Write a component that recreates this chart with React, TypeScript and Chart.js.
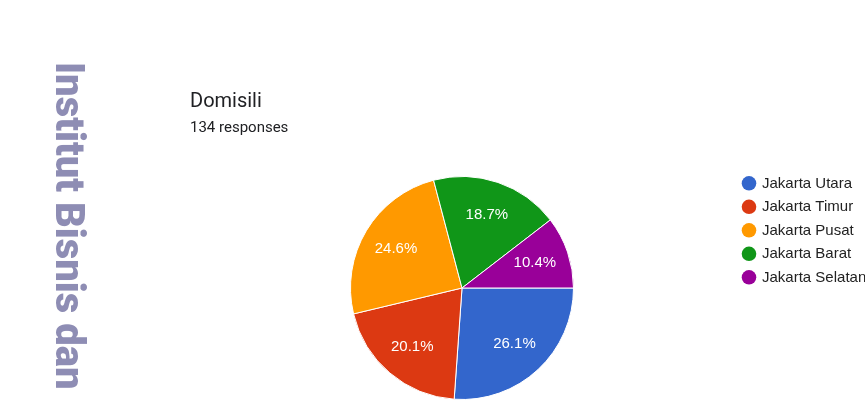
import React, { useEffect, useRef } from "react";
import { Chart, registerables } from "chart.js";

Chart.register(...registerables);

const categories = ["Jakarta Utara", "Jakarta Timur", "Jakarta Pusat", "Jakarta Barat", "Jakarta Selatan"];
const responses = [35, 27, 33, 25, 14];
const sliceColors = ["#3366CC", "#DC3912", "#FF9900", "#109618", "#990099"];
const titleText = "Domisili";
const subtitleText = "134 responses";
const sideText = "Institut Bisnis dan";

const labelPlugin = {
  id: "sliceLabels",
  afterDatasetsDraw(chart: any) {
    const ctx = chart.ctx;
    const meta = chart.getDatasetMeta(0);
    const data = chart.data.datasets[0].data as number[];
    const total = data.reduce((a, b) => a + b, 0);
    ctx.save();
    ctx.font = "15px 'Liberation Sans', Arial, sans-serif";
    ctx.fillStyle = "#ffffff";
    ctx.textAlign = "center";
    ctx.textBaseline = "middle";
    meta.data.forEach((arc: any, i: number) => {
      const p = arc.getProps(["x", "y", "startAngle", "endAngle", "outerRadius"], true);
      const mid = (p.startAngle + p.endAngle) / 2;
      const r = p.outerRadius * 0.69;
      const pct = ((data[i] / total) * 100).toFixed(1) + "%";
      ctx.fillText(pct, p.x + Math.cos(mid) * r, p.y + Math.sin(mid) * r);
    });
    ctx.restore();
  },
};

const legendPlugin = {
  id: "sideLegend",
  afterDraw(chart: any) {
    const ctx = chart.ctx;
    const labels = chart.data.labels as string[];
    const colors = chart.data.datasets[0].backgroundColor as string[];
    ctx.save();
    ctx.font = "15px 'Liberation Sans', Arial, sans-serif";
    ctx.textBaseline = "middle";
    ctx.textAlign = "left";
    labels.forEach((lab, i) => {
      const y = 183.3 + i * 23.5;
      ctx.beginPath();
      ctx.arc(749, y, 7.3, 0, Math.PI * 2);
      ctx.fillStyle = colors[i];
      ctx.fill();
      ctx.fillStyle = "#222222";
      ctx.fillText(lab, 762, y + 0.5);
    });
    ctx.restore();
  },
};

export default function App() {
  const canvasRef = useRef<HTMLCanvasElement | null>(null);

  useEffect(() => {
    if (!canvasRef.current) return;
    const chart = new Chart(canvasRef.current, {
      type: "pie",
      data: {
        labels: categories,
        datasets: [
          {
            data: responses,
            backgroundColor: sliceColors,
            borderColor: "#ffffff",
            borderWidth: 1,
          },
        ],
      },
      options: {
        responsive: false,
        animation: false,
        rotation: 90,
        layout: { padding: { left: 350, right: 291, top: 176, bottom: 1 } },
        plugins: {
          legend: { display: false },
          tooltip: { enabled: false },
          title: { display: false },
        },
      },
      plugins: [labelPlugin, legendPlugin],
    });
    return () => chart.destroy();
  }, []);

  return (
    <div style={{ position: "absolute", left: 0, top: 0, width: 865, height: 401, background: "#ffffff", overflow: "hidden" }}>
      <canvas ref={canvasRef} width={865} height={401} style={{ position: "absolute", left: 0, top: 0 }} />
      <div
        style={{
          position: "absolute",
          left: 190,
          top: 88,
          fontFamily: "Roboto, sans-serif",
          fontSize: 20,
          lineHeight: "24px",
          color: "#202124",
          whiteSpace: "nowrap",
        }}
      >
        {titleText}
      </div>
      <div
        style={{
          position: "absolute",
          left: 190,
          top: 118,
          fontFamily: "Roboto, sans-serif",
          fontSize: 15,
          lineHeight: "18px",
          color: "#202124",
          whiteSpace: "nowrap",
        }}
      >
        {subtitleText}
      </div>
      <div
        style={{
          position: "absolute",
          left: 89,
          top: 62,
          transform: "rotate(90deg)",
          transformOrigin: "0 0",
          fontFamily: "Roboto, sans-serif",
          fontWeight: 900,
          fontSize: 40,
          lineHeight: "40px",
          color: "#8e8db4",
          whiteSpace: "nowrap",
        }}
      >
        {sideText}
      </div>
    </div>
  );
}
